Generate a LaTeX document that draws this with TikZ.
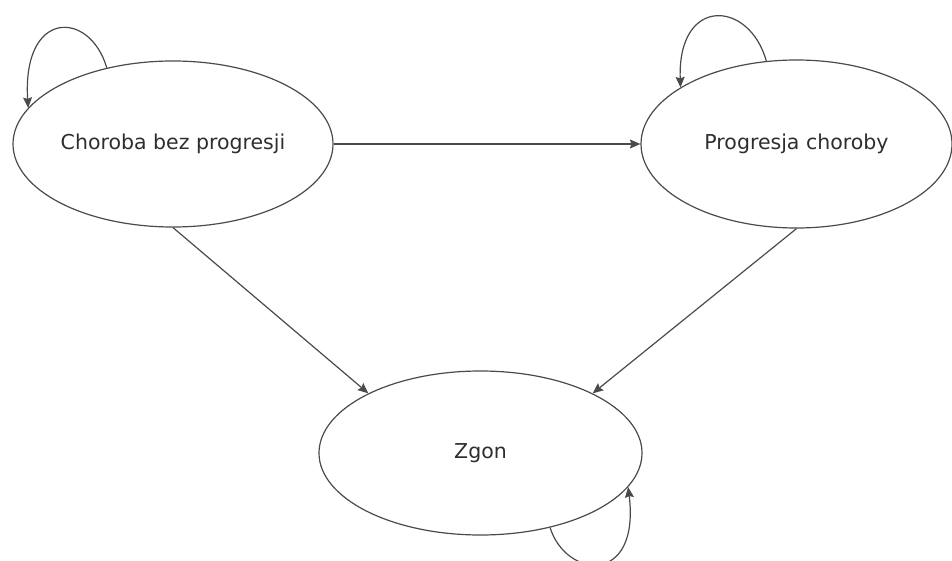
\documentclass[tikz,border=0pt]{standalone}
\usepackage{fontspec}
\setmainfont{DejaVu Sans}
\usetikzlibrary{shapes.geometric,arrows.meta}
\definecolor{linegray}{HTML}{4A4A4A}
\definecolor{textgray}{HTML}{2E2E2E}
\tikzset{
  state/.style={ellipse, draw=linegray, line width=1.2pt, inner sep=0pt, text=textgray, font=\fontsize{20.5}{24}\selectfont},
  conn/.style={draw=linegray, line width=1.2pt, -{Stealth[length=10.5pt,width=9pt,inset=1.5pt]}}
}
\begin{document}
\begin{tikzpicture}[x=1pt,y=-1pt]
\useasboundingbox (0,0) rectangle (952,561);
\clip (0,0) rectangle (952,561);
\node[state, minimum width=320pt, minimum height=166pt] (A) at (173,144) {Choroba bez progresji};
\node[state, minimum width=311pt, minimum height=168pt] (R) at (796.5,144) {Progresja choroby};
\node[state, minimum width=323pt, minimum height=164pt] (C) at (480.5,453) {Zgon};
\draw[conn] (A.east) -- (R.west);
\draw[conn] (A.south) -- (C.152);
\draw[conn] (R.south) -- (C.28);
\draw[conn] (A.131) .. controls +(-17,-58) and +(-6,-99) .. (A.166);
\draw[conn] (R.110) .. controls +(-17,-61) and +(-3,-92) .. (R.154);
\draw[conn] (C.-47) .. controls +(16,51) and +(12,99) .. (C.-13);
\end{tikzpicture}
\end{document}
